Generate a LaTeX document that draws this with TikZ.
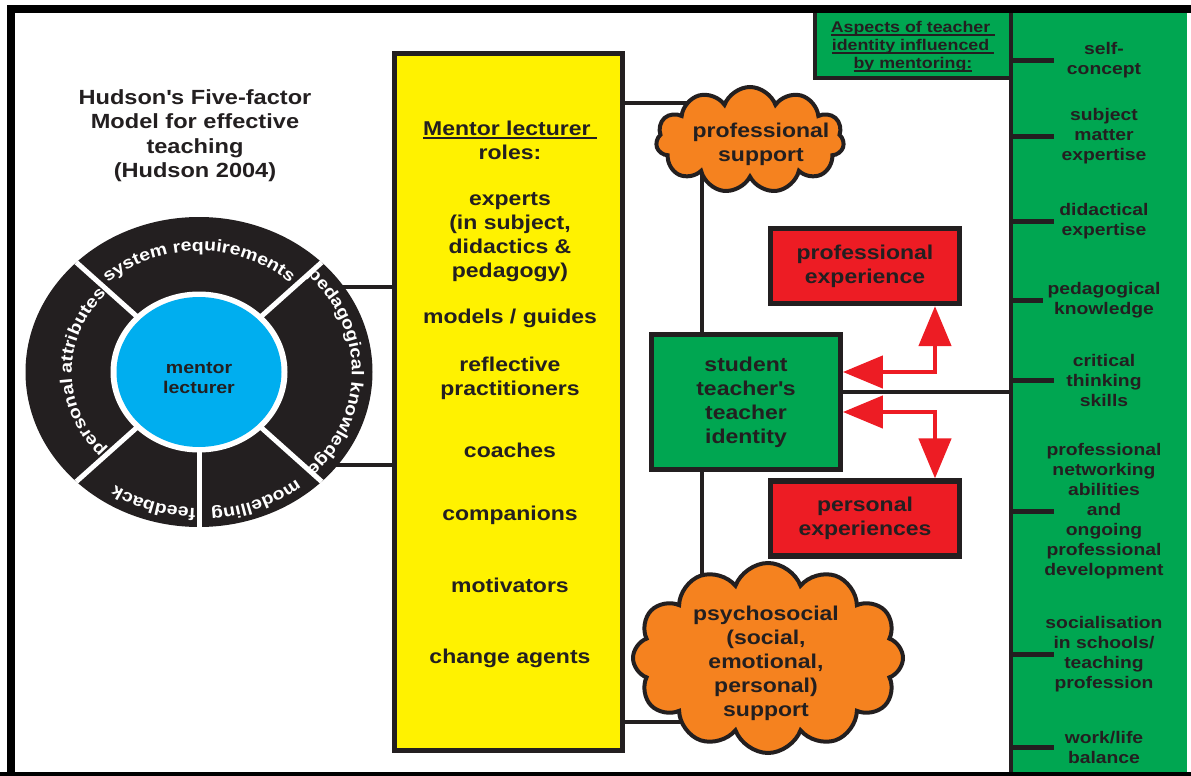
\documentclass[tikz,border=0pt]{standalone}
\usepackage{fontspec}
\setmainfont{Liberation Sans}[FakeStretch=1.15]
\usetikzlibrary{shapes.symbols,arrows.meta,decorations.text,backgrounds}

\definecolor{ink}{HTML}{231F20}
\definecolor{yel}{HTML}{FFF200}
\definecolor{grn}{HTML}{00A651}
\definecolor{org}{HTML}{F5821F}
\definecolor{rd}{HTML}{ED1C24}
\definecolor{blu}{HTML}{00AEEF}

% underline with a fixed depth below the baseline
\newcommand\ulined[1]{\setbox0=\hbox{#1}\rlap{\rule[-1.6pt]{\wd0}{0.75pt}}\box0}
\newcommand\wheelfont{\bfseries\fontsize{8.5}{10}\selectfont}
% curved label on the ring: start angle, end angle, y radius, text
\newcommand\wheellabel[4]{%
  \path[decorate, decoration={text along path, text align=center, text color=white,
        text={|\wheelfont|#4}}]
    (wheel) ++(#1:{1.116*#3} and #3)
    arc[start angle=#1, end angle=#2, x radius={1.116*#3}, y radius=#3];}

\tikzset{
  lbl/.style={text=ink, align=center, inner sep=0pt, font=\bfseries\fontsize{10}{12}\selectfont},
  sml/.style={lbl, font=\bfseries\fontsize{8.4}{10}\selectfont},
  conn/.style={draw=ink, line width=2.4pt},
  tick/.style={draw=ink, line width=2.5pt},
  box/.style={draw=ink, inner sep=0pt},
  puff/.style={cloud, cloud puffs=11, cloud puff arc=140, draw=ink, fill=org, line width=2pt, inner sep=0pt},
  redarr/.style={draw=rd, line width=2.25pt,
    arrows={Triangle[length=20pt,width=16pt,fill=rd]-Triangle[length=20pt,width=16pt,fill=rd]}},
}

\begin{document}
\begin{tikzpicture}[x=0.5pt,y=-0.5pt]
\useasboundingbox (0,0) rectangle (1191,776);

% right-hand column of aspects
\node[fill=grn, minimum width=88pt, minimum height=383pt, inner sep=0pt] (col) at (1099,392) {};
\draw[ink, line width=2pt] (col.north west) -- (col.south west);
\node[box, fill=grn, line width=2pt, minimum width=98pt, minimum height=34.5pt] (aspbox) at (913,43.5) {};
\node[lbl, font=\bfseries\fontsize{7.75}{9}\selectfont] (asp) at (913,46.5)
  {\ulined{Aspects of teacher\ }\\\ulined{identity influenced\ }\\\ulined{by mentoring:}};

\node[sml] (a1) at (1104,60)  {self-\\concept};
\node[sml] (a2) at (1104,136) {subject\\matter\\expertise};
\node[sml] (a3) at (1104,221) {didactical\\expertise};
\node[sml] (a4) at (1104,300) {pedagogical\\knowledge};
\node[sml] (a5) at (1104,380) {critical\\thinking\\skills};
\node[sml] (a6) at (1104,511) {professional\\networking\\abilities\\and\\ongoing\\professional\\development};
\node[sml] (a7) at (1104,654) {socialisation\\in schools/\\teaching\\profession};
\node[sml] (a8) at (1104,747) {work/life\\balance};
\foreach \n/\l in {a1/43,a2/43,a3/43,a4/32,a5/43,a6/43,a7/43,a8/43}
  \draw[tick] (col.west |- \n.center) -- ++(\l,0);

% outer frame
\draw[black, line width=4pt] (11,780) -- (11,9) -- (1195,9);
\draw[black, line width=4pt] (0,776) -- (1195,776);

% title
\node[lbl, font=\bfseries\fontsize{10.25}{12.2}\selectfont] (title) at (195,135.5)
  {Hudson\textquotesingle s Five-factor\\Model for effective\\teaching\\(Hudson 2004)};

% five-factor wheel
\coordinate (wheel) at (199,372);
\fill[ink] (wheel) ellipse [x radius=173.5, y radius=155];
\foreach \a in {-45,-135,135,90,45}
  \draw[white, line width=2.5pt] (wheel) -- ++(\a:173.5 and 155);
\fill[white] (wheel) ellipse [x radius=88.5, y radius=80.5];
\fill[blu] (wheel) ellipse [x radius=82.5, y radius=75];
\node[lbl, font=\bfseries\fontsize{8.5}{10}\selectfont] (ml) at (199,378) {mentor\\lecturer};
\wheellabel{-150}{-30}{121}{system requirements}
\wheellabel{-60}{60}{137}{pedagogical knowledge}
\wheellabel{-240}{-120}{114}{personal attributes}
\wheellabel{68}{148}{136}{feedback}
\wheellabel{27.5}{107.5}{138}{modelling}

% mentor lecturer roles
\node[box, fill=yel, line width=2.5pt, minimum width=114pt, minimum height=348.5pt] (roles) at (508.5,402) {};
\node[lbl] (r0) at (510,140.5) {\ulined{Mentor lecturer\ }\\roles:};
\node[lbl] (r1) at (510,237.5) {experts\\(in subject,\\didactics \&\\pedagogy)};
\node[lbl] (r2) at (510,318) {models / guides};
\node[lbl] (r3) at (510,378) {reflective\\practitioners};
\node[lbl] (r4) at (510,450) {coaches};
\node[lbl] (r5) at (510,515) {companions};
\node[lbl] (r6) at (510,585) {motivators};
\node[lbl] (r7) at (510,658) {change agents};

% support clouds
\node[puff, minimum width=94pt, minimum height=53pt] (profsup) at (750,140) {};
\node[lbl] (profsupt) at (761,144) {professional\\support};
\node[puff, cloud puffs=12, minimum width=135pt, minimum height=95pt] (psysup) at (768,658) {};
\node[lbl] (psysupt) at (766,663.5) {psychosocial\\(social,\\emotional,\\personal)\\support};

% identity and experiences
\node[box, lbl, fill=grn, line width=2.4pt, minimum width=94.5pt, minimum height=67.5pt] (student)
  at (746,402) {student\\teacher\textquotesingle s\\teacher\\identity};
\node[box, lbl, fill=rd, line width=2.6pt, minimum width=94.5pt, minimum height=37.5pt] (profexp)
  at (865,266) {professional\\experience};
\node[box, lbl, fill=rd, line width=2.6pt, minimum width=94.5pt, minimum height=37.5pt] (persexp)
  at (865,518.5) {personal\\experiences};

\draw[redarr] ([yshift=15pt]student.east) -| ([xshift=35pt]profexp.south);
\draw[redarr] ([yshift=-5pt]student.east) -| ([xshift=35pt]persexp.north);

% connectors behind the shapes
\begin{pgfonlayer}{background}
  \draw[conn] ([yshift=42.5pt]wheel) -- ([yshift=42.5pt]wheel -| roles.west);
  \draw[conn] ([yshift=-46.5pt]wheel) -- ([yshift=-46.5pt]wheel -| roles.west);
  \draw[conn] ([yshift=149.5pt]roles.east) -- ([yshift=149.5pt]roles.east -| profsup.center);
  \draw[conn] ([yshift=-160pt]roles.east) -- ([yshift=-160pt]roles.east -| psysup.center);
  \draw[conn] ([xshift=-22pt]student.north) -- ([xshift=-22pt]student.north |- profsup.center);
  \draw[conn] ([xshift=-22pt]student.south) -- ([xshift=-22pt]student.south |- psysup.center);
  \draw[conn] ([yshift=5pt]student.east) -- ([yshift=5pt]student.east -| col.west);
\end{pgfonlayer}
\end{tikzpicture}
\end{document}
